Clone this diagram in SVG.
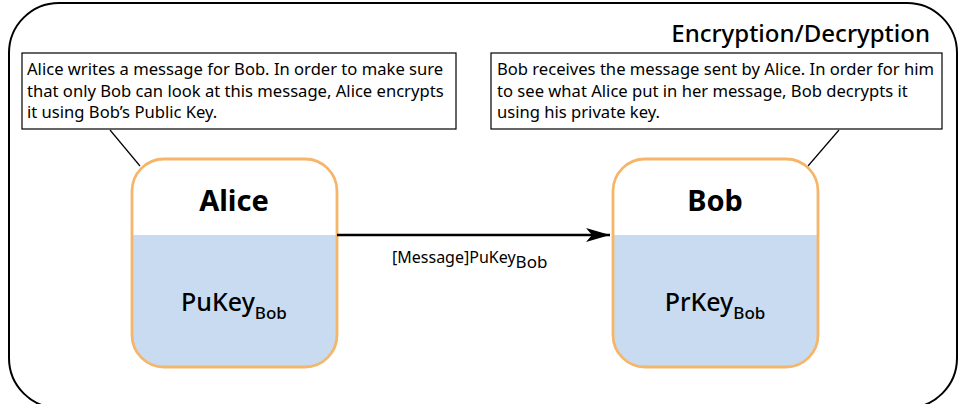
<svg xmlns="http://www.w3.org/2000/svg" width="961" height="404" viewBox="0 0 961 404">
<defs>
<style>
text{font-family:"Noto Sans","Open Sans","DejaVu Sans",sans-serif;fill:#000}
.frame{fill:#fff;stroke:#000;stroke-width:2}
.note{fill:#fff;stroke:#000;stroke-width:1.2}
.lead{stroke:#000;stroke-width:1.2;fill:none}
.nodebox{fill:none;stroke:#F5B66A;stroke-width:2.8}
.lower{fill:#C8DBF0}
.name{font-size:29px;font-weight:bold;text-anchor:middle}
.key{font-size:25px;font-weight:500}
.sub{font-size:17px}
.ntext{font-size:16.6px}
.edge{stroke:#000;stroke-width:2.5;fill:none}
</style>
<marker id="arr" viewBox="0 0 24 14" refX="24" refY="7" markerWidth="24" markerHeight="14" markerUnits="userSpaceOnUse" orient="auto">
<path d="M0,0 L24,7 L0,14 L6,7 Z" fill="#000"/>
</marker>
<clipPath id="clipA"><rect x="132" y="159" width="205" height="208" rx="32"/></clipPath>
<clipPath id="clipB"><rect x="613" y="159" width="205" height="208" rx="32"/></clipPath>
</defs>
<rect class="frame" x="9" y="3" width="948" height="405" rx="50"/>
<text x="930" y="42" style="font-size:24px;font-weight:500;text-anchor:end">Encryption/Decryption</text>
<g id="noteAlice">
<line class="lead" x1="110" y1="130" x2="140" y2="166"/>
<rect class="note" x="22" y="53" width="434" height="76"/>
<text class="ntext" x="27" y="75">Alice writes a message for Bob. In order to make sure</text>
<text class="ntext" x="27" y="97">that only Bob can look at this message, Alice encrypts</text>
<text class="ntext" x="27" y="118">it using Bob’s Public Key.</text>
</g>
<g id="noteBob">
<line class="lead" x1="839" y1="130" x2="808" y2="166"/>
<rect class="note" x="491" y="53" width="451" height="76"/>
<text class="ntext" x="497" y="75">Bob receives the message sent by Alice. In order for him</text>
<text class="ntext" x="497" y="97">to see what Alice put in her message, Bob decrypts it</text>
<text class="ntext" x="497" y="118">using his private key.</text>
</g>
<g id="alice">
<rect x="132" y="159" width="205" height="208" rx="32" fill="#fff"/>
<rect class="lower" x="132" y="235" width="205" height="132" clip-path="url(#clipA)"/>
<rect class="nodebox" x="132" y="159" width="205" height="208" rx="32"/>
<text class="name" x="234" y="211">Alice</text>
<text class="key" x="234" y="311" text-anchor="middle">PuKey<tspan class="sub" dy="8">Bob</tspan></text>
</g>
<g id="bob">
<rect x="613" y="159" width="205" height="208" rx="32" fill="#fff"/>
<rect class="lower" x="613" y="235" width="205" height="132" clip-path="url(#clipB)"/>
<rect class="nodebox" x="613" y="159" width="205" height="208" rx="32"/>
<text class="name" x="715" y="211">Bob</text>
<text class="key" x="715" y="311" text-anchor="middle">PrKey<tspan class="sub" dy="8">Bob</tspan></text>
</g>
<g id="connectors">
<line class="edge" x1="337" y1="235" x2="610" y2="235" marker-end="url(#arr)"/>
<text style="font-size:16px" x="392" y="263">[Message]PuKey<tspan style="font-size:17px" dy="5">Bob</tspan></text>
</g>
</svg>
